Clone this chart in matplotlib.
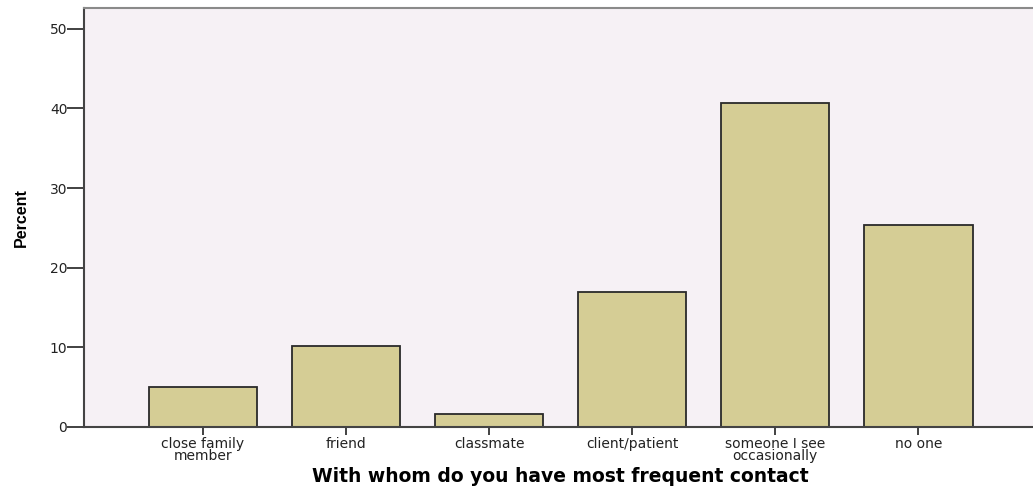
import matplotlib.pyplot as plt

categories = ['close family\nmember', 'friend', 'classmate', 'client/patient',
              'someone I see\noccasionally', 'no one']
percent = [5.08, 10.17, 1.69, 16.95, 40.68, 25.42]

fig = plt.figure(figsize=(10.33, 4.88), dpi=100)
ax = fig.add_axes([84 / 1033, 61 / 488, 1 - 84 / 1033, (427 - 8) / 488])
ax.set_facecolor('#f6f1f5')

x = range(len(categories))
ax.bar(x, percent, width=0.755, color='#d5cd95', edgecolor='#2a2a2a', linewidth=1.3)

ax.set_xlim(-0.83, 5.80)
ax.set_ylim(0, 52.6)
ax.set_yticks([0, 10, 20, 30, 40, 50])
ax.set_xticks(list(x))
ax.set_xticklabels(categories, fontsize=10, family='DejaVu Sans', linespacing=0.85,
                   color='#222222')
for lab in ax.get_yticklabels():
    lab.set_fontsize(10)
    lab.set_family('DejaVu Sans')
    lab.set_color('#222222')

ax.tick_params(axis='y', length=12, width=1.3, color='#333333', pad=0)
ax.tick_params(axis='x', length=6, width=1.3, color='#333333', pad=1)

for side in ['left', 'bottom']:
    ax.spines[side].set_color('#444444')
    ax.spines[side].set_linewidth(1.5)
ax.spines['top'].set_color('#8a8a8a')
ax.spines['top'].set_linewidth(1.5)
ax.spines['right'].set_visible(False)

ax.set_ylabel('Percent', fontsize=11.5, fontweight='bold', family='Liberation Sans')
ax.yaxis.set_label_coords(-0.058, 0.5)
ax.set_xlabel('With whom do you have most frequent contact', fontsize=13.5,
              fontweight='bold', family='DejaVu Sans', va='center')
ax.xaxis.set_label_coords(0.502, -0.119)

fig.savefig('out.png', dpi=100)
